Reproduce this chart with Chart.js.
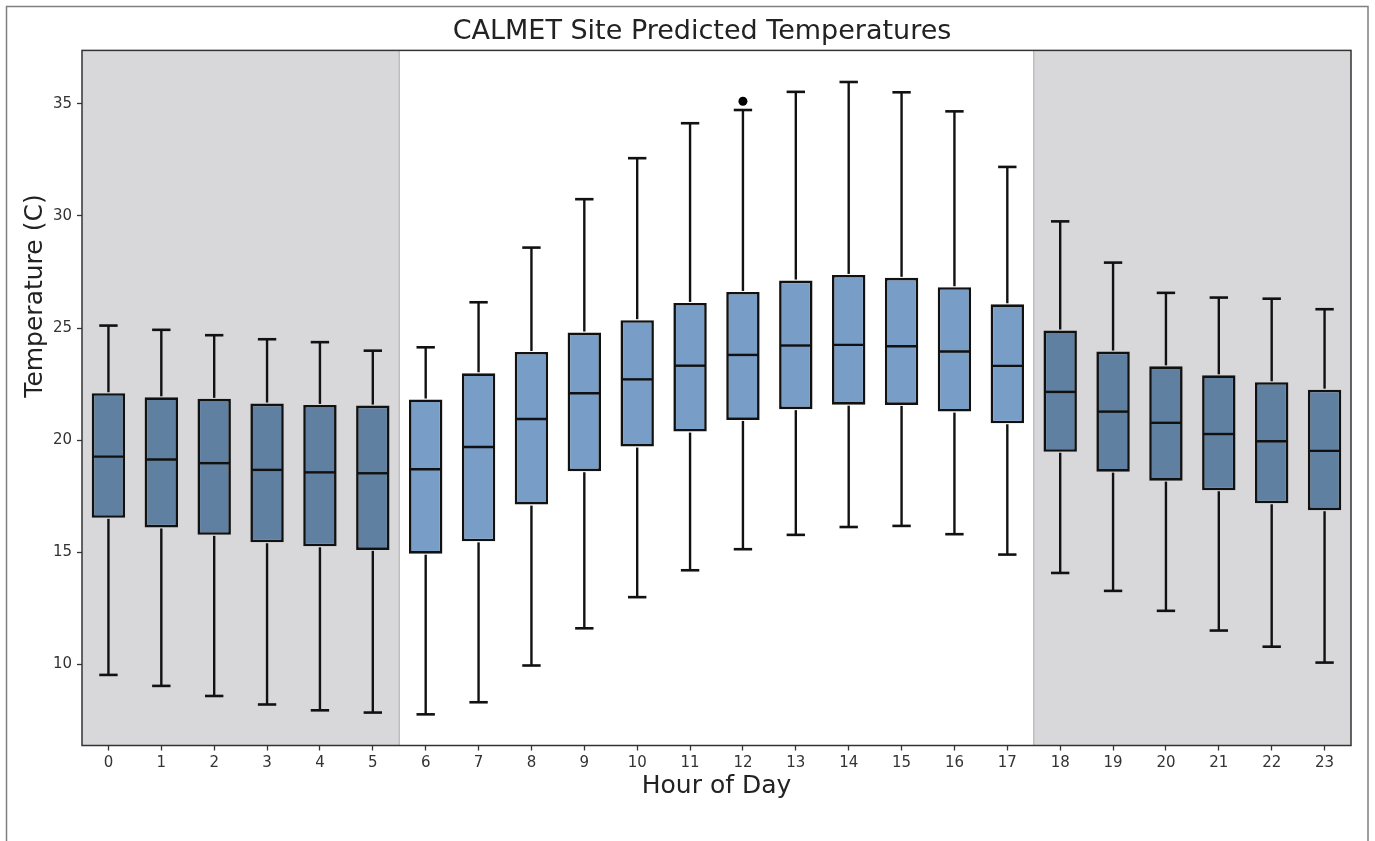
<!DOCTYPE html>
<html>
<head>
<meta charset="utf-8">
<title>CALMET Site Predicted Temperatures</title>
<script src="https://cdn.jsdelivr.net/npm/chart.js@4.4.1/dist/chart.umd.min.js"></script>
<style>
  html, body { margin: 0; padding: 0; background: #fff; }
  #chart { display: block; }
</style>
</head>
<body>
<canvas id="chart" width="1375" height="841"></canvas>
<script>
// hour of day categories
const hours = ['0','1','2','3','4','5','6','7','8','9','10','11','12','13','14','15','16','17','18','19','20','21','22','23'];

// box plot statistics per hour (deg C)
const whiskerLow  = [9.52, 9.03, 8.58, 8.20, 7.94, 7.84, 7.76, 8.30, 9.94, 11.60, 12.99, 14.19, 15.13, 15.77, 16.12, 16.17, 15.80, 14.89, 14.07, 13.27, 12.38, 11.50, 10.78, 10.07];
const q1          = [16.53, 16.10, 15.77, 15.44, 15.26, 15.10, 14.93, 15.48, 17.12, 18.61, 19.71, 20.38, 20.90, 21.38, 21.58, 21.57, 21.27, 20.75, 19.48, 18.59, 18.19, 17.76, 17.18, 16.87];
const median      = [19.26, 19.13, 18.97, 18.67, 18.56, 18.52, 18.70, 19.69, 20.94, 22.09, 22.71, 23.32, 23.80, 24.22, 24.25, 24.19, 23.95, 23.31, 22.15, 21.27, 20.77, 20.27, 19.95, 19.52];
const q3          = [22.09, 21.91, 21.84, 21.63, 21.57, 21.54, 21.81, 22.98, 23.93, 24.80, 25.35, 26.12, 26.61, 27.12, 27.37, 27.24, 26.82, 26.06, 24.89, 23.95, 23.29, 22.89, 22.58, 22.25];
const whiskerHigh = [25.11, 24.92, 24.68, 24.50, 24.37, 23.99, 24.14, 26.15, 28.59, 30.75, 32.58, 34.14, 34.73, 35.54, 35.98, 35.52, 34.67, 32.19, 29.76, 27.92, 26.57, 26.36, 26.31, 25.84];

// fliers
const outlierHours  = ['12'];
const outlierValues = [35.12];

// y axis
const yTicks = [10, 15, 20, 25, 30, 35];
const yMin = 6.37;
const yMax = 37.39;

// night-time shaded spans (in category units)
const nightSpans = [[-0.5, 5.5], [17.5, 23.5]];

const NIGHT_COLOR = '#5f80a1';
const DAY_COLOR = '#789dc7';
const SHADE_COLOR = '#d8d8da';
const INK = '#111';

const isNight = i => nightSpans.some(s => i > s[0] && i < s[1]);

Chart.defaults.font.family = "'DejaVu Sans', sans-serif";
Chart.defaults.color = '#262626';

// gray background for the night hours
const shadePlugin = {
  id: 'shade',
  beforeDatasetsDraw(chart) {
    const {ctx, chartArea: a, scales: {x}} = chart;
    ctx.save();
    nightSpans.forEach(([s, e]) => {
      const x1 = Math.max(a.left, x.getPixelForValue(s));
      const x2 = Math.min(a.right, x.getPixelForValue(e));
      ctx.fillStyle = SHADE_COLOR;
      ctx.fillRect(x1, a.top, x2 - x1, a.bottom - a.top);
      ctx.strokeStyle = '#bdbdbf';
      ctx.lineWidth = 1.5;
      [x1, x2].forEach(px => {
        if (px > a.left + 1 && px < a.right - 1) {
          ctx.beginPath();
          ctx.moveTo(px, a.top);
          ctx.lineTo(px, a.bottom);
          ctx.stroke();
        }
      });
    });
    ctx.restore();
  }
};

// whiskers, caps and median lines on top of the IQR bars
const boxPlugin = {
  id: 'boxparts',
  afterDatasetsDraw(chart) {
    const {ctx, scales: {y}} = chart;
    const meta = chart.getDatasetMeta(0);
    ctx.save();
    ctx.strokeStyle = INK;
    ctx.lineCap = 'butt';
    meta.data.forEach((bar, i) => {
      const cx = bar.x;
      const half = bar.width / 2;
      const cap = half * 0.55;
      const line = (x1, y1, x2, y2) => {
        ctx.beginPath();
        ctx.moveTo(x1, y1);
        ctx.lineTo(x2, y2);
        ctx.stroke();
      };
      ctx.lineWidth = 2.4;
      const yHi = y.getPixelForValue(whiskerHigh[i]);
      const yLo = y.getPixelForValue(whiskerLow[i]);
      line(cx, y.getPixelForValue(q3[i]) - 1, cx, yHi);
      line(cx, y.getPixelForValue(q1[i]) + 1, cx, yLo);
      ctx.lineWidth = 2.6;
      line(cx - cap, yHi, cx + cap, yHi);
      line(cx - cap, yLo, cx + cap, yLo);
      ctx.lineWidth = 2.4;
      const ym = y.getPixelForValue(median[i]);
      line(cx - half + 1, ym, cx + half - 1, ym);
    });
    ctx.restore();
  }
};

// axes frame, figure border and rotated y label
const framePlugin = {
  id: 'frame',
  beforeDraw(chart) {
    const {ctx} = chart;
    ctx.save();
    ctx.strokeStyle = '#7f7f7f';
    ctx.lineWidth = 1.5;
    ctx.strokeRect(6.5, 6.5, 1361.5, 900);
    ctx.restore();
  },
  afterDraw(chart) {
    const {ctx, chartArea: a} = chart;
    ctx.save();
    ctx.strokeStyle = '#333';
    ctx.lineWidth = 1.5;
    ctx.strokeRect(a.left, a.top, a.right - a.left, a.bottom - a.top);
    ctx.translate(35, 296);
    ctx.rotate(-Math.PI / 2);
    ctx.font = "25px 'DejaVu Sans', sans-serif";
    ctx.fillStyle = '#222';
    ctx.textAlign = 'center';
    ctx.textBaseline = 'middle';
    ctx.fillText('Temperature (C)', 0, 0);
    ctx.restore();
  }
};

new Chart(document.getElementById('chart').getContext('2d'), {
  type: 'bar',
  data: {
    labels: hours,
    datasets: [{
      label: 'IQR',
      data: hours.map((h, i) => [q1[i], q3[i]]),
      backgroundColor: hours.map((h, i) => isNight(i) ? NIGHT_COLOR : DAY_COLOR),
      borderColor: INK,
      borderWidth: 2.6,
      borderSkipped: false,
      barPercentage: 0.79,
      categoryPercentage: 0.8
    }, {
      type: 'line',
      label: 'outliers',
      data: hours.map(h => {
        const k = outlierHours.indexOf(h);
        return k < 0 ? null : outlierValues[k];
      }),
      showLine: false,
      pointRadius: 4.5,
      pointBackgroundColor: '#000',
      pointBorderColor: '#000',
      pointBorderWidth: 0
    }]
  },
  options: {
    responsive: false,
    animation: false,
    layout: { padding: { left: 53, right: 24, top: 0, bottom: 35.5 } },
    plugins: {
      legend: { display: false },
      tooltip: { enabled: false },
      title: {
        display: true,
        text: 'CALMET Site Predicted Temperatures',
        color: '#222',
        font: { size: 27, weight: 'normal' },
        padding: { top: 16, bottom: 2 }
      }
    },
    scales: {
      x: {
        grid: { display: true, drawOnChartArea: false, offset: false, tickLength: 5, tickColor: '#333', tickWidth: 1.3 },
        border: { display: false },
        ticks: { font: { size: 15 }, color: '#333', padding: 4, maxRotation: 0, autoSkip: false },
        title: { display: true, text: 'Hour of Day', color: '#222', font: { size: 25 }, padding: { top: 0, bottom: 4.5 } },
        afterFit(scale) { scale.height = 60; }
      },
      y: {
        min: yMin,
        max: yMax,
        grid: { display: true, drawOnChartArea: false, tickLength: 5, tickColor: '#333', tickWidth: 1.3 },
        border: { display: false },
        ticks: { font: { size: 15 }, color: '#333', padding: 5 },
        afterBuildTicks(scale) { scale.ticks = yTicks.map(v => ({ value: v })); },
        afterFit(scale) { scale.width = 29; }
      }
    }
  },
  plugins: [shadePlugin, boxPlugin, framePlugin]
});
</script>
</body>
</html>
